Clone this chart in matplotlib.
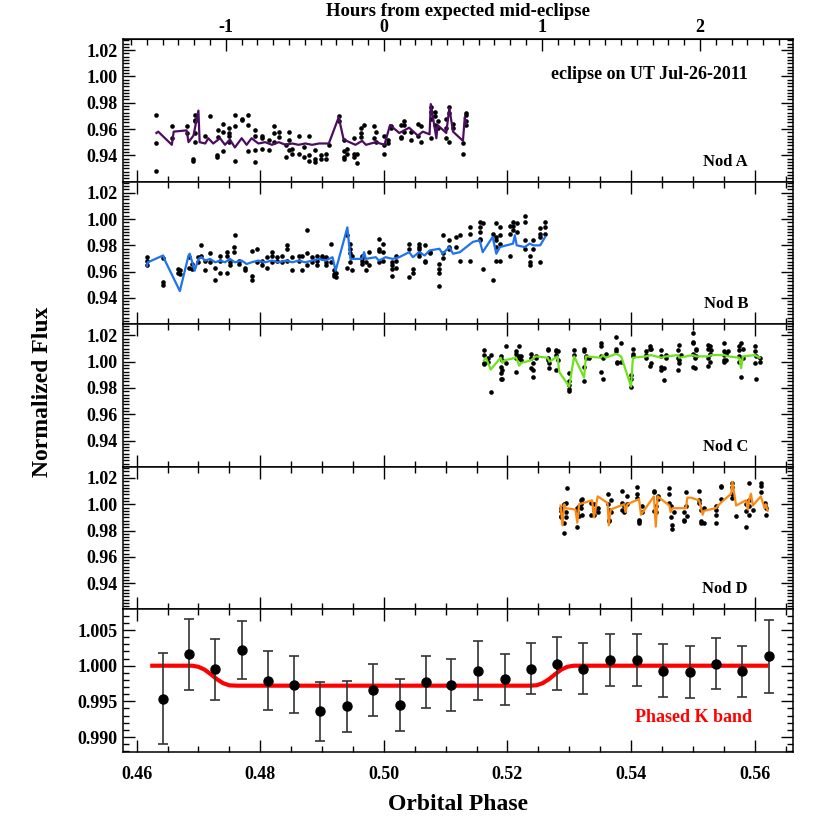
import numpy as np
import matplotlib
matplotlib.use("Agg")
import matplotlib.pyplot as plt
from matplotlib.ticker import MultipleLocator, FixedLocator

plt.rcParams['font.family'] = ['Liberation Serif', 'DejaVu Serif']
plt.rcParams['font.weight'] = 'bold'
plt.rcParams['axes.unicode_minus'] = False

# ------------------------------------------------------------
# data: cluster phases + flux values per cluster
# ------------------------------------------------------------
nodA_t = [0.4632, 0.4657, 0.4681, 0.4692, 0.4695, 0.4711, 0.4719, 0.4730, 0.4732, 0.4740,
          0.4749, 0.4759, 0.4770, 0.4781, 0.4792, 0.4803, 0.4814, 0.4822, 0.4830, 0.4841,
          0.4846, 0.4852, 0.4862, 0.4871, 0.4879, 0.4889, 0.4898, 0.4906, 0.4911, 0.4927,
          0.4935, 0.4941, 0.4952, 0.4957, 0.4963, 0.4968, 0.4984, 0.4987, 0.5001, 0.5006,
          0.5011, 0.5028, 0.5033, 0.5044, 0.5055, 0.5060, 0.5076, 0.5082, 0.5087, 0.5101,
          0.5106, 0.5112, 0.5128, 0.5133]
nodA_f = [[0.971, 0.949, 0.928], [0.962, 0.953], [0.962, 0.957], [0.937, 0.936],
          [0.971, 0.967, 0.966, 0.957, 0.950], [0.955], [0.970], [0.940, 0.939], [0.959, 0.954],
          [0.964, 0.958, 0.943], [0.961, 0.957, 0.955, 0.950], [0.971, 0.962, 0.936], [0.968, 0.967],
          [0.971, 0.963, 0.943], [0.959, 0.955, 0.935, 0.944], [0.955, 0.953, 0.945], [0.952, 0.944],
          [0.962, 0.957, 0.950], [0.958, 0.954], [0.948, 0.939], [0.958, 0.952, 0.944], [0.945, 0.941],
          [0.955, 0.941], [0.946, 0.939], [0.955, 0.940, 0.936], [0.944, 0.937, 0.935], [0.940, 0.937],
          [0.941, 0.937], [0.948], [0.970, 0.966], [0.952, 0.939, 0.937, 0.943], [0.945, 0.941],
          [0.953, 0.941, 0.939], [0.941, 0.934], [0.961, 0.957, 0.954], [0.963], [0.962, 0.953],
          [0.958, 0.950], [0.955, 0.948, 0.941], [0.952, 0.949], [0.961, 0.962], [0.963, 0.954, 0.953],
          [0.966, 0.963, 0.958], [0.958, 0.952], [0.964, 0.955], [0.962, 0.950],
          [0.977, 0.973, 0.968, 0.953], [0.973, 0.970, 0.963], [0.966, 0.961], [0.968, 0.961, 0.953],
          [0.977, 0.972, 0.950], [0.964, 0.961], [0.941, 0.949], [0.972, 0.971, 0.966, 0.963]]

nodB_t = [0.4617, 0.4643, 0.4667, 0.4670, 0.4684, 0.4689, 0.4700, 0.4705, 0.4711, 0.4719,
          0.4727, 0.4735, 0.4746, 0.4751, 0.4757, 0.4759, 0.4765, 0.4776, 0.4786, 0.4795,
          0.4803, 0.4811, 0.4819, 0.4827, 0.4835, 0.4843, 0.4852, 0.4862, 0.4868, 0.4876,
          0.4884, 0.4892, 0.4900, 0.4906, 0.4914, 0.4919, 0.4922, 0.4941, 0.4946, 0.4949,
          0.4965, 0.4971, 0.4976, 0.4992, 0.4998, 0.5014, 0.5020, 0.5041, 0.5047, 0.5057,
          0.5066, 0.5074, 0.5090, 0.5095, 0.5106, 0.5117, 0.5123, 0.5139, 0.5155, 0.5160,
          0.5176, 0.5182, 0.5188, 0.5204, 0.5209, 0.5215, 0.5228, 0.5236, 0.5242, 0.5253,
          0.5261]
nodB_f = [[0.971, 0.968, 0.965], [0.970, 0.952, 0.950], [0.962, 0.959], [0.961, 0.958],
          [0.971, 0.963], [0.966, 0.962], [0.971, 0.967], [0.980, 0.972], [0.968, 0.961],
          [0.974, 0.967], [0.954, 0.963], [0.972, 0.968, 0.959], [0.975, 0.972, 0.959],
          [0.967, 0.965], [0.979, 0.975], [0.988], [0.968, 0.966], [0.963, 0.961],
          [0.976, 0.954, 0.957], [0.977, 0.967], [0.968, 0.965], [0.971, 0.963],
          [0.975, 0.972, 0.967], [0.971, 0.968], [0.967, 0.972], [0.980, 0.977, 0.968],
          [0.971, 0.961], [0.972, 0.968], [0.961, 0.972], [0.992, 0.974, 0.965], [0.971, 0.967],
          [0.972, 0.968, 0.965], [0.972, 0.970], [0.971, 0.967, 0.965], [0.981, 0.967],
          [0.961, 0.958, 0.957], [0.959, 0.956], [0.988, 0.963], [0.981, 0.977, 0.974, 0.967],
          [0.972, 0.961], [0.972, 0.970, 0.968, 0.966], [0.967, 0.961], [0.975, 0.965],
          [0.985, 0.977, 0.976, 0.967], [0.981, 0.975, 0.968], [0.967, 0.965, 0.962, 0.957],
          [0.972, 0.968, 0.963], [0.981, 0.977, 0.956], [0.962, 0.959],
          [0.981, 0.979, 0.977, 0.974, 0.972], [0.980, 0.968, 0.967], [0.975, 0.974],
          [0.966, 0.962, 0.959, 0.949], [0.988, 0.974, 0.970], [0.984, 0.979, 0.977],
          [0.986, 0.979], [0.988, 0.968], [0.994, 0.989, 0.968], [0.998, 0.994, 0.990, 0.985, 0.984],
          [0.997, 0.962], [0.989, 0.954], [0.997, 0.986, 0.984, 0.979, 0.968],
          [0.994, 0.988, 0.981, 0.968], [0.995, 0.989, 0.972], [0.998, 0.995, 0.992], [0.997, 0.990],
          [1.002, 0.998, 0.984, 0.977], [0.972, 0.967, 0.965], [0.977, 0.984],
          [0.993, 0.989, 0.986, 0.967], [0.998, 0.994, 0.989]]

nodC_t = [0.5162, 0.5168, 0.5173, 0.5189, 0.5192, 0.5197, 0.5214, 0.5219, 0.5222, 0.5238,
          0.5241, 0.5246, 0.5265, 0.5268, 0.5278, 0.5281, 0.5300, 0.5308, 0.5324, 0.5327,
          0.5332, 0.5351, 0.5354, 0.5359, 0.5376, 0.5378, 0.5384, 0.5400, 0.5403, 0.5424,
          0.5430, 0.5432, 0.5449, 0.5454, 0.5457, 0.5476, 0.5478, 0.5481, 0.5500, 0.5503,
          0.5505, 0.5524, 0.5527, 0.5530, 0.5551, 0.5554, 0.5557, 0.5575, 0.5578, 0.5581,
          0.5600, 0.5602, 0.5608]
nodC_f = [[1.009, 1.005, 0.999, 0.998], [1.003, 1.000], [1.005, 0.977], [1.004, 0.996, 0.991, 0.987],
          [1.001, 0.994, 0.987], [1.012, 0.999], [1.008, 1.006, 1.003, 0.992], [1.012, 1.004, 1.003],
          [1.004, 1.001], [1.006, 1.003, 0.995], [0.999, 0.994, 0.988], [1.004, 1.003],
          [1.010, 1.009, 1.003, 1.001], [0.999, 0.995], [1.009, 1.008, 1.005, 0.994], [1.008, 1.001],
          [0.991, 0.985, 0.982, 0.979, 0.978], [1.009, 1.005], [1.010, 1.008, 0.996, 0.985],
          [1.004, 1.003], [1.003], [1.014, 1.012, 1.004, 0.992], [1.003, 0.987], [1.006],
          [1.019, 1.010, 1.008], [1.000, 0.999], [1.014, 1.000], [0.990, 0.987, 0.981],
          [1.010, 1.006, 1.004], [1.008, 1.005, 1.003], [1.012, 1.010, 0.997], [1.010, 0.999],
          [1.009, 1.004, 0.996, 0.994], [0.995, 0.986], [1.005, 1.003], [1.009, 1.003, 0.994],
          [1.013, 1.001, 0.999], [1.005], [1.022, 1.015, 1.014, 1.006, 0.996], [1.003, 0.995],
          [1.010, 1.009, 1.004], [1.013, 1.010, 1.003, 0.997], [1.012, 1.006, 1.000], [1.009],
          [1.014, 1.008, 1.005, 1.001, 1.000], [1.006, 1.001], [1.008], [1.012, 1.009, 1.004, 1.000],
          [1.014, 0.988], [1.010, 1.003], [1.012, 1.008, 0.999], [1.004, 0.987], [1.003, 1.000]]

nodD_t = [0.5286, 0.5292, 0.5294, 0.5297, 0.5313, 0.5316, 0.5319, 0.5321, 0.5335, 0.5340,
          0.5346, 0.5362, 0.5364, 0.5367, 0.5386, 0.5389, 0.5394, 0.5410, 0.5413, 0.5418,
          0.5437, 0.5440, 0.5443, 0.5462, 0.5464, 0.5467, 0.5470, 0.5486, 0.5489, 0.5491,
          0.5510, 0.5513, 0.5518, 0.5537, 0.5545, 0.5564, 0.5570, 0.5586, 0.5591, 0.5597,
          0.5610, 0.5616, 0.5618]
nodD_f = [[0.997, 0.995, 0.991, 0.990], [1.000, 0.986, 0.978], [1.001, 0.994, 0.990], [1.012],
          [0.997, 0.994, 0.983], [0.999, 0.991], [1.003, 1.000, 0.997], [1.004, 0.992],
          [1.001, 0.992], [1.000, 0.996, 0.992], [0.997, 0.994], [1.008, 1.000],
          [0.996, 0.988, 0.987], [1.003, 0.994], [1.010, 1.001, 0.996], [0.999, 0.994],
          [1.006, 1.000], [1.013, 1.008, 1.005], [0.988, 0.987, 0.986], [0.994, 0.999],
          [1.010, 1.009, 0.995], [0.994, 0.999], [1.004, 1.006], [1.012, 1.008, 1.001],
          [0.999, 0.990], [0.984, 0.981], [0.994], [0.994, 0.988, 0.987], [1.009, 0.999], [0.991],
          [1.010, 1.003, 1.001], [0.996, 0.987, 0.986], [0.997, 0.986], [0.999, 0.996, 0.992, 0.986],
          [1.014, 1.013, 1.004], [1.016, 1.013, 1.008, 1.005], [0.991], [1.000, 0.995, 0.983],
          [1.016, 1.003, 0.999, 0.992], [0.996], [1.016, 1.014, 1.009], [1.001, 0.999], [0.997, 0.992]]

# systematics model curves (vertices)
modA_t = [0.4632, 0.4635, 0.4657, 0.4660, 0.4681, 0.4684, 0.4692, 0.4700, 0.4702, 0.4711,
          0.4716, 0.4724, 0.4735, 0.4743, 0.4751, 0.4759, 0.4770, 0.4778, 0.4786, 0.4797,
          0.4808, 0.4819, 0.4830, 0.4841, 0.4852, 0.4862, 0.4873, 0.4884, 0.4895, 0.4911,
          0.4927, 0.4935, 0.4954, 0.4965, 0.4971, 0.4987, 0.5001, 0.5010, 0.5025, 0.5041,
          0.5055, 0.5063, 0.5074, 0.5076, 0.5085, 0.5087, 0.5101, 0.5106, 0.5112, 0.5128,
          0.5131, 0.5133]
modA_f = [0.957, 0.958, 0.948, 0.958, 0.959, 0.950, 0.955, 0.974, 0.950, 0.949,
          0.953, 0.949, 0.953, 0.948, 0.952, 0.946, 0.953, 0.948, 0.953, 0.949,
          0.950, 0.948, 0.950, 0.948, 0.949, 0.948, 0.949, 0.948, 0.949, 0.949,
          0.969, 0.952, 0.948, 0.951, 0.948, 0.950, 0.948, 0.963, 0.957, 0.961,
          0.955, 0.958, 0.956, 0.979, 0.953, 0.963, 0.957, 0.976, 0.958, 0.951,
          0.969, 0.964]

modB_t = [0.4617, 0.4618, 0.4643, 0.4646, 0.4670, 0.4684, 0.4686, 0.4694, 0.4700, 0.4705,
          0.4711, 0.4719, 0.4727, 0.4735, 0.4743, 0.4751, 0.4759, 0.4770, 0.4778, 0.4786,
          0.4797, 0.4808, 0.4819, 0.4830, 0.4841, 0.4852, 0.4862, 0.4873, 0.4884, 0.4895,
          0.4906, 0.4917, 0.4922, 0.4941, 0.4946, 0.4965, 0.4968, 0.4971, 0.4987, 0.4992,
          0.5003, 0.5014, 0.5025, 0.5041, 0.5047, 0.5057, 0.5066, 0.5074, 0.5090, 0.5095,
          0.5106, 0.5112, 0.5123, 0.5144, 0.5155, 0.5160, 0.5176, 0.5182, 0.5188, 0.5209,
          0.5212, 0.5215, 0.5228, 0.5236, 0.5242, 0.5253, 0.5261]
modB_f = [0.9645, 0.9671, 0.9723, 0.9684, 0.9452, 0.9723, 0.9736, 0.9607, 0.9697, 0.9710,
          0.9684, 0.9697, 0.9671, 0.9684, 0.9671, 0.9697, 0.9671, 0.9684, 0.9658, 0.9671,
          0.9684, 0.9671, 0.9684, 0.9671, 0.9684, 0.9671, 0.9684, 0.9671, 0.9684, 0.9697,
          0.9684, 0.9710, 0.9607, 0.9937, 0.9697, 0.9697, 0.9748, 0.9697, 0.9710, 0.9684,
          0.9710, 0.9697, 0.9710, 0.9748, 0.9710, 0.9748, 0.9723, 0.9761, 0.9774, 0.9736,
          0.9787, 0.9736, 0.9748, 0.9826, 0.9839, 0.9748, 0.9864, 0.9736, 0.9787, 0.9813,
          0.9877, 0.9800, 0.9787, 0.9813, 0.9800, 0.9800, 0.9864]

modC_t = [0.5162, 0.5165, 0.5173, 0.5189, 0.5192, 0.5195, 0.5214, 0.5219, 0.5222, 0.5238,
          0.5243, 0.5246, 0.5265, 0.5268, 0.5281, 0.5284, 0.5300, 0.5305, 0.5308, 0.5324,
          0.5327, 0.5351, 0.5354, 0.5359, 0.5376, 0.5384, 0.5400, 0.5403, 0.5424, 0.5432,
          0.5449, 0.5457, 0.5476, 0.5478, 0.5500, 0.5505, 0.5524, 0.5530, 0.5551, 0.5557,
          0.5575, 0.5578, 0.5581, 0.5600, 0.5608]
modC_f = [1.001, 1.003, 0.994, 1.003, 0.999, 1.001, 1.003, 0.997, 0.999, 1.001,
          1.003, 1.004, 1.003, 1.000, 1.004, 0.992, 0.981, 0.996, 1.004, 0.988,
          1.004, 1.003, 1.005, 1.003, 1.006, 1.004, 0.981, 1.003, 1.004, 1.005,
          1.003, 1.004, 1.005, 1.003, 1.005, 1.004, 1.004, 1.005, 1.005, 1.004,
          1.003, 0.995, 1.004, 1.005, 1.003]

modD_t = [0.5286, 0.5289, 0.5292, 0.5294, 0.5310, 0.5313, 0.5316, 0.5337, 0.5340, 0.5346,
          0.5362, 0.5364, 0.5367, 0.5389, 0.5391, 0.5394, 0.5413, 0.5416, 0.5437, 0.5440,
          0.5443, 0.5462, 0.5464, 0.5467, 0.5489, 0.5491, 0.5497, 0.5510, 0.5516, 0.5518,
          0.5537, 0.5545, 0.5562, 0.5564, 0.5570, 0.5586, 0.5589, 0.5591, 0.5594, 0.5597,
          0.5610, 0.5616, 0.5618, 0.5621]
modD_f = [0.999, 0.984, 1.000, 0.997, 0.996, 0.986, 1.000, 1.003, 0.990, 1.006,
          1.001, 0.984, 0.996, 1.000, 0.994, 1.000, 1.004, 0.992, 1.006, 0.983,
          1.006, 0.999, 0.994, 0.997, 0.997, 1.005, 1.005, 1.003, 0.992, 0.995,
          0.997, 1.001, 1.008, 1.017, 0.999, 1.003, 0.996, 1.003, 1.008, 0.999,
          1.006, 0.997, 1.000, 0.995]

# phased, binned K band light curve
bin_t = [0.4642, 0.4684, 0.4727, 0.4770, 0.4813, 0.4855, 0.4897, 0.4940, 0.4983, 0.5026,
         0.5069, 0.5109, 0.5152, 0.5196, 0.5238, 0.5280, 0.5323, 0.5366, 0.5409, 0.5452,
         0.5495, 0.5537, 0.5580, 0.5623]
bin_f = [0.9954, 1.0016, 0.9995, 1.0022, 0.9979, 0.9973, 0.9936, 0.9943, 0.9966, 0.9945,
         0.9977, 0.9973, 0.9993, 0.9981, 0.9996, 1.0003, 0.9996, 1.0008, 1.0008, 0.9993,
         0.9991, 1.0003, 0.9992, 1.0013]
bin_e = [0.0064, 0.0050, 0.0043, 0.0041, 0.0041, 0.0040, 0.0041, 0.0036, 0.0036, 0.0036,
         0.0037, 0.0037, 0.0041, 0.0036, 0.0036, 0.0037, 0.0036, 0.0037, 0.0036, 0.0037,
         0.0036, 0.0036, 0.0036, 0.0051]

ecl_t = [0.4622, 0.4690, 0.4700, 0.4710, 0.4720, 0.4730, 0.4740, 0.4750, 0.4762,
         0.5235, 0.5247, 0.5257, 0.5267, 0.5277, 0.5287, 0.5297, 0.5307, 0.5622]
ecl_f = [1.0000, 1.0000, 0.99985, 0.99945, 0.9988, 0.9981, 0.99755, 0.99725, 0.9972,
         0.9972, 0.99725, 0.99755, 0.9981, 0.9988, 0.99945, 0.99985, 1.0000, 1.0000]

hour_ticks = [-1, 0, 1, 2]

nods = [("Nod A", nodA_t, nodA_f, modA_t, modA_f, "#4c0d5e"),
        ("Nod B", nodB_t, nodB_f, modB_t, modB_f, "#1f73ee"),
        ("Nod C", nodC_t, nodC_f, modC_t, modC_f, "#6fe21e"),
        ("Nod D", nodD_t, nodD_f, modD_t, modD_f, "#fb8a12")]

HOURS_PER_PHASE = 39.1
XLIM = (0.4578, 0.5662)

# ------------------------------------------------------------
fig = plt.figure(figsize=(8.3, 8.3), dpi=100)
gs = fig.add_gridspec(5, 1, left=0.1482, right=0.9554, top=0.953, bottom=0.094, hspace=0)
axes = [fig.add_subplot(gs[i]) for i in range(5)]


def style(ax, top=True):
    ax.set_xlim(*XLIM)
    ax.xaxis.set_major_locator(MultipleLocator(0.02))
    ax.xaxis.set_minor_locator(MultipleLocator(0.005))
    ax.tick_params(which='both', direction='in', top=top, right=True, width=1.0,
                   labelsize=13, pad=4)
    ax.tick_params(which='major', length=8.5)
    ax.tick_params(which='minor', length=4.5)
    for s in ax.spines.values():
        s.set_linewidth(1.1)


for i, (name, t, f, mt, mf, col) in enumerate(nods):
    ax = axes[i]
    xs = [ti for ti, fl in zip(t, f) for _ in fl]
    ys = [v for fl in f for v in fl]
    ax.scatter(xs, ys, s=11, color='black', lw=0, zorder=2)
    ax.plot(mt, mf, color=col, lw=1.6, zorder=3)
    ax.set_ylim(0.92, 1.0285)
    ax.yaxis.set_major_locator(FixedLocator([0.94, 0.96, 0.98, 1.00, 1.02]))
    ax.yaxis.set_minor_locator(MultipleLocator(0.0025))
    style(ax, top=(i > 0))
    ax.set_xticklabels([])
    ax.text(0.933, 0.14, name, transform=ax.transAxes, ha='right', va='center',
            fontsize=12, fontweight='bold')

axes[0].text(0.933, 0.75, "eclipse on UT Jul-26-2011", transform=axes[0].transAxes,
             ha='right', va='center', fontsize=13, fontweight='bold')

# top axis in hours
sec = axes[0].secondary_xaxis('top', functions=(lambda p: (p - 0.5) * HOURS_PER_PHASE,
                                                lambda h: h / HOURS_PER_PHASE + 0.5))
hmin = (XLIM[0] - 0.5) * HOURS_PER_PHASE
hmax = (XLIM[1] - 0.5) * HOURS_PER_PHASE
minor_h = [k / 10 for k in range(int(np.ceil(hmin * 10)), int(np.floor(hmax * 10)) + 1)]
sec.xaxis.set_major_locator(FixedLocator(hour_ticks))
sec.xaxis.set_minor_locator(FixedLocator(minor_h))
sec.tick_params(which='both', direction='in', width=1.0, labelsize=13, pad=2)
sec.tick_params(which='major', length=8.5)
sec.tick_params(which='minor', length=4.5)
sec.xaxis.set_major_formatter(plt.FuncFormatter(lambda v, p: f"{v:.0f}"))
sec.set_xlabel("Hours from expected mid-eclipse", fontsize=13.5, fontweight='bold', labelpad=2)

# bottom panel
ax = axes[4]
ax.plot(ecl_t, ecl_f, color='red', lw=3, zorder=2, solid_capstyle='butt')
ax.errorbar(bin_t, bin_f, yerr=bin_e, fmt='o', color='black', ms=6.5, ecolor='#333333',
            elinewidth=1.2, capsize=3.5, capthick=1.2, zorder=3)
ax.set_ylim(0.9879, 1.0079)
ax.yaxis.set_major_locator(MultipleLocator(0.005))
ax.yaxis.set_minor_locator(MultipleLocator(0.001))
ax.yaxis.set_major_formatter(plt.FuncFormatter(lambda v, p: f"{v:.3f}"))
style(ax)
ax.tick_params(axis='x', pad=10)
ax.xaxis.set_major_formatter(plt.FuncFormatter(lambda v, p: f"{v:.2f}"))
ax.set_xlabel("Orbital Phase", fontsize=17, fontweight='bold', labelpad=8)
ax.text(0.939, 0.245, "Phased K band", transform=ax.transAxes, ha='right', va='center',
        fontsize=13, fontweight='bold', color='red')

fig.text(0.051, 0.528, "Normalized Flux", rotation=90, ha='center', va='center',
         fontsize=17, fontweight='bold')

fig.savefig("out.png", dpi=100)
